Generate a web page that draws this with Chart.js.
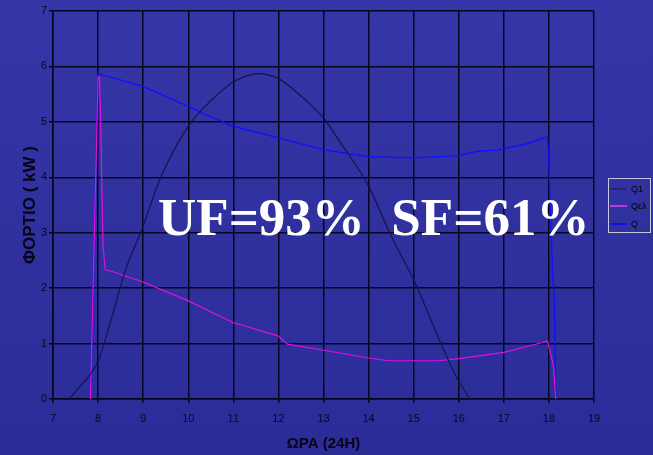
<!DOCTYPE html>
<html>
<head>
<meta charset="utf-8">
<script src="https://cdn.jsdelivr.net/npm/chart.js@4/dist/chart.umd.min.js"></script>
<style>
  html, body { margin: 0; padding: 0; background: #2f2f9e; }
  #wrap { width: 653px; height: 455px; position: relative; }
</style>
</head>
<body>
<div id="wrap"><canvas id="c" width="653" height="455"></canvas></div>
<script>
// Load curves over the day (hour, kW)
const q1Hours = [7.36, 7.57, 7.79, 8.0, 8.31, 8.61, 9.0, 9.34, 9.71, 10.08, 10.45, 10.96, 11.14, 11.55, 12.0, 12.59, 13.0, 13.33, 14.0, 14.5, 15.0, 15.6, 15.96, 16.25];
const q1Load  = [0, 0.2, 0.41, 0.68, 1.49, 2.33, 3.12, 3.9, 4.53, 5.01, 5.34, 5.7, 5.78, 5.87, 5.78, 5.4, 5.07, 4.68, 3.84, 2.94, 2.15, 1.01, 0.38, 0];

const qelHours = [7.83, 8.0, 8.03, 8.05, 8.11, 8.16, 8.31, 8.97, 9.98, 10.99, 11.99, 12.2, 13.0, 14.0, 14.45, 15.55, 16.0, 17.0, 17.86, 17.97, 18.1, 18.15];
const qelLoad  = [0, 5.82, 5.8, 5.25, 2.75, 2.33, 2.3, 2.12, 1.78, 1.38, 1.14, 0.99, 0.88, 0.74, 0.69, 0.69, 0.73, 0.84, 1.02, 1.05, 0.6, 0];

const qHours = [7.83, 8.0, 9.0, 10.0, 10.23, 11.0, 12.0, 13.0, 14.0, 15.0, 16.0, 16.42, 16.86, 17.5, 17.97, 18.0, 18.08, 18.12, 18.15];
const qLoad  = [0, 5.87, 5.64, 5.28, 5.19, 4.92, 4.71, 4.5, 4.37, 4.35, 4.39, 4.47, 4.49, 4.6, 4.73, 4.23, 2.3, 1.8, 0.05];

const seriesLabels = ['Q1', 'Q\u03b5\u03bb', 'Q'];
const xTicks = [7, 8, 9, 10, 11, 12, 13, 14, 15, 16, 17, 18, 19];
const yTicks = [0, 1, 2, 3, 4, 5, 6, 7];
const factorText = 'UF=93%  SF=61%';

const toPoints = (xs, ys) => xs.map((x, i) => ({ x: x, y: ys[i] }));

// Textured-looking slide background
const backdrop = {
  id: 'backdrop',
  beforeDraw(chart) {
    const { ctx, width, height } = chart;
    ctx.save();
    const g = ctx.createLinearGradient(0, 0, 0, height);
    g.addColorStop(0, '#3636a8');
    g.addColorStop(0.5, '#30309f');
    g.addColorStop(1, '#2c2c99');
    ctx.fillStyle = g;
    ctx.fillRect(0, 0, width, height);
    ctx.restore();
  }
};

// Legend box on the right and the factor annotation
const overlay = {
  id: 'overlay',
  afterDraw(chart) {
    const { ctx } = chart;
    ctx.save();
    // legend
    ctx.strokeStyle = '#c8c8dc';
    ctx.lineWidth = 1;
    ctx.strokeRect(608.5, 178.5, 42, 54);
    const rows = [189, 206, 224];
    const legendColors = ['#1c1c6a', '#ff40ff', '#0000ff'];
    ctx.font = '9px "Liberation Sans", Arial, sans-serif';
    ctx.textBaseline = 'middle';
    ctx.fillStyle = '#000';
    chart.data.datasets.forEach((ds, i) => {
      ctx.strokeStyle = legendColors[i];
      ctx.lineWidth = 1.3;
      ctx.beginPath();
      ctx.moveTo(610, rows[i]);
      ctx.lineTo(627, rows[i]);
      ctx.stroke();
      ctx.fillText(ds.label, 631, rows[i] + 0.5);
    });
    // factors
    ctx.font = 'bold 53px "Liberation Serif", "Times New Roman", serif';
    ctx.fillStyle = '#ffffff';
    ctx.textBaseline = 'alphabetic';
    ctx.textAlign = 'left';
    ctx.fillText(factorText, 158, 235);
    ctx.restore();
  }
};

new Chart(document.getElementById('c'), {
  type: 'line',
  data: {
    datasets: [
      { label: seriesLabels[0], data: toPoints(q1Hours, q1Load), borderColor: '#14144e', borderWidth: 1.2, pointRadius: 0, cubicInterpolationMode: 'monotone' },
      { label: seriesLabels[1], data: toPoints(qelHours, qelLoad), borderColor: '#e010e0', borderWidth: 1.2, pointRadius: 0, tension: 0 },
      { label: seriesLabels[2], data: toPoints(qHours, qLoad), borderColor: '#1010ff', borderWidth: 1.4, pointRadius: 0, tension: 0 }
    ]
  },
  options: {
    responsive: false,
    animation: false,
    events: [],
    layout: { padding: { left: 0, top: 11, right: 59, bottom: 0 } },
    plugins: { legend: { display: false }, tooltip: { enabled: false } },
    scales: {
      x: {
        type: 'linear',
        min: xTicks[0],
        max: xTicks[xTicks.length - 1],
        afterBuildTicks: (s) => { s.ticks = xTicks.map(v => ({ value: v })); },
        afterFit: (s) => { s.height = 56; },
        grid: { color: '#06061e', lineWidth: 1.5, tickLength: 4, drawTicks: true },
        border: { color: '#06061e', width: 1.5 },
        ticks: { color: '#08081c', padding: 9, font: { family: '"Liberation Sans", Arial, sans-serif', size: 11 } },
        title: { display: true, text: '\u03a9\u03a1\u0391 (24\u0397)', color: '#050515', padding: { top: 0, bottom: 2 }, font: { family: '"Liberation Sans", Arial, sans-serif', size: 15, weight: 'bold' } }
      },
      y: {
        type: 'linear',
        min: yTicks[0],
        max: yTicks[yTicks.length - 1],
        afterBuildTicks: (s) => { s.ticks = yTicks.map(v => ({ value: v })); },
        afterFit: (s) => { s.width = 53; },
        grid: { color: '#06061e', lineWidth: 1.5, tickLength: 4, drawTicks: true },
        border: { color: '#06061e', width: 1.5 },
        ticks: { color: '#08081c', padding: 2, font: { family: '"Liberation Sans", Arial, sans-serif', size: 11 } },
        title: { display: true, text: '\u03a6\u039f\u03a1\u03a4\u0399\u039f ( kW )', color: '#050515', padding: { top: 20, bottom: 0 }, font: { family: '"Liberation Sans", Arial, sans-serif', size: 17, weight: 'bold' } }
      }
    }
  },
  plugins: [backdrop, overlay]
});
</script>
</body>
</html>
